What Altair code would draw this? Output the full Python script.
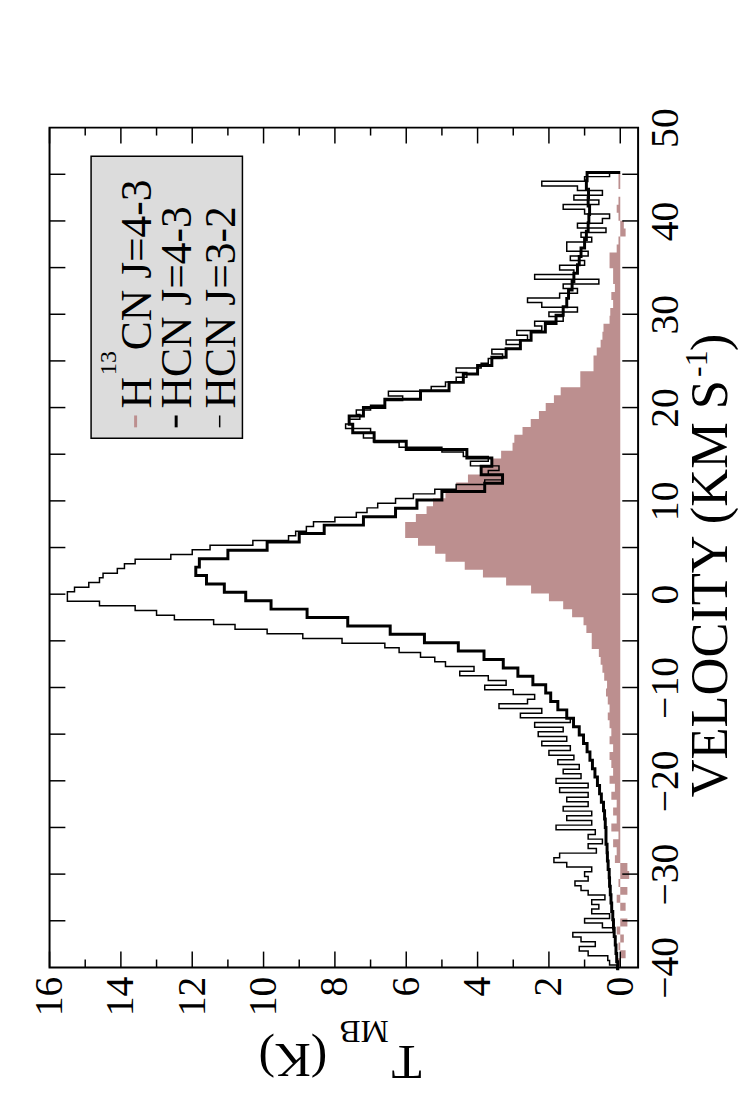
import altair as alt
import pandas as pd

FONT = "Liberation Serif"
BROWN = "#bc8f8f"

# ---------------- data ----------------
# HCN J=3-2 (thin line): first channel velocity, channel width (km/s), T_MB (K)
hcn32_v0 = -40.25
hcn32_dv = 0.5
hcn32_T = [
    0.1, 0.3, 0.35, 0.9, 1.15, 0.7, 1.1, 1.33, 0.2, 0.5,
    1.0, 0.3, 0.8, 0.6, 0.8, 0.43, 0.9, 1.1, 1.27, 0.9,
    1.0, 0.8, 1.5, 1.86, 1.7, 0.67, 0.9, 0.5, 0.9, 0.7,
    1.8, 0.8, 1.5, 0.8, 1.6, 0.9, 1.5, 0.9, 1.7, 0.9,
    1.8, 1.1, 1.6, 1.15, 1.75, 1.3, 2.0, 1.4, 2.2, 1.5,
    2.3, 1.6, 2.4, 1.4, 2.8, 2.2, 3.4, 2.6, 2.4, 3.0,
    3.8, 3.2, 3.7, 4.5, 4.1, 4.9, 5.2, 5.6, 6.2, 6.6,
    7.8, 8.9, 9.9, 10.8, 11.4, 12.5, 13.0, 13.6, 14.6, 15.5,
    15.5, 15.3, 14.9, 14.6, 14.5, 14.1, 13.9, 13.6, 12.6, 12.0,
    11.5, 10.3, 9.3, 9.1, 8.8, 8.6, 8.0, 7.4, 7.1, 6.8,
    6.3, 5.8, 5.2, 4.6, 3.8, 3.3, 3.7, 3.4, 4.2, 3.7,
    4.4, 5.0, 6.2, 6.9, 7.2, 7.0, 7.7, 7.6, 7.3, 7.4,
    7.0, 6.6, 6.1, 6.5, 5.3, 4.9, 4.6, 4.3, 4.6, 3.9,
    3.7, 3.3, 3.6, 2.8, 3.2, 2.6, 2.9, 2.2, 2.4, 1.6,
    2.0, 1.2, 2.2, 2.6, 1.7, 1.2, 1.6, 0.6, 2.4, 1.3,
    1.7, 1.0, 1.4, 0.9, 1.5, 1.5, 0.8, 1.1, 0.4, 1.2,
    0.5, 0.3, 1.0, 1.6, 0.6, 1.3, 0.5, 1.2, 2.2, 1.0,
    0.3,
]

# HCN J=4-3 (thick line); the trace closes to 0 K at its last channel edge
hcn43_v0 = -40.3
hcn43_dv = 0.9
hcn43_T = [
    0.07, 0.10, 0.12, 0.14, 0.17, 0.19, 0.21, 0.24, 0.26, 0.28,
    0.30, 0.31, 0.34, 0.36, 0.37, 0.40, 0.40, 0.42, 0.44, 0.47,
    0.53, 0.58, 0.64, 0.71, 0.78, 0.85, 0.93, 1.03, 1.15, 1.31,
    1.50, 1.75, 1.95, 2.09, 2.45, 2.87, 3.28, 3.82, 4.54, 5.49,
    6.45, 7.64, 8.78, 9.79, 10.5, 11.1, 11.6, 11.9, 11.8, 11.0,
    9.9, 9.0, 8.3, 7.2, 6.3, 5.7, 5.0, 3.8, 3.3, 3.9,
    3.6, 4.3, 6.0, 6.9, 7.5, 7.6, 7.2, 6.6, 5.6, 4.8,
    4.4, 4.0, 3.6, 3.2, 2.8, 2.5, 2.1, 1.8, 1.6, 1.5,
    1.45, 1.35, 1.3, 1.2, 1.15, 1.1, 1.0, 0.95, 0.9, 0.88,
    0.86, 0.9, 0.89, 0.95, 0.93,
]
hcn43_close = 0.0

# H13CN J=4-3 (filled histogram)
h13cn_v0 = -39.87
h13cn_dv = 0.85
h13cn_T = [
    -0.1, 0.1, -0.15, 0.05, -0.1, 0.1, -0.2, 0.0, -0.15, 0.1,
    -0.2, 0.05, -0.25, -0.2, 0.15, 0.1, 0.2, 0.05, 0.25, 0.1,
    0.2, 0.1, 0.25, 0.15, 0.3, 0.2, 0.25, 0.3, 0.2, 0.3,
    0.25, 0.3, 0.35, 0.3, 0.35, 0.4, 0.37, 0.45, 0.5, 0.55,
    0.6, 0.8, 0.8, 0.95, 1.03, 1.35, 1.6, 2.0, 2.5, 3.2,
    3.85, 4.36, 4.9, 5.19, 5.67, 6.03, 6.03, 5.73, 5.43, 5.25,
    4.9, 4.6, 4.27, 3.9, 3.62, 3.34, 3.02, 2.97, 2.74, 2.51,
    2.28, 2.09, 1.86, 1.67, 1.12, 1.12, 0.75, 0.75, 0.66, 0.55,
    0.5, 0.47, 0.3, 0.28, 0.2, 0.25, 0.15, 0.2, 0.2, 0.3,
    0.3, 0.1, 0.05, -0.15, -0.1, 0.05, 0.1, 0.05, 0.0, 0.05,
]

T_labels = [0, 2, 4, 6, 8, 10, 12, 14, 16]
T_minor = [1, 3, 5, 7, 9, 11, 13, 15]
V_labels = [-40, -30, -20, -10, 0, 10, 20, 30, 40, 50]
V_ticks = [-35, -30, -25, -20, -15, -10, -5, 0, 5, 10, 15, 20, 25, 30, 35, 40, 45]

legend_labels = ["HCN J=4-3", "HCN J=3-2"]


def step_table(v0, dv, vals, close=None):
    rows = [{"v": v0 + i * dv, "T": t} for i, t in enumerate(vals)]
    end = v0 + len(vals) * dv
    rows.append({"v": end, "T": vals[-1]})
    if close is not None:
        rows.append({"v": end + 1e-6, "T": close})
    return pd.DataFrame(rows)


W, H = 595, 849

x_scale = alt.Scale(domain=[-0.5, 16], reverse=True, nice=False, zero=False)
y_scale = alt.Scale(domain=[-40, 50], nice=False, zero=False)

x_axis = alt.Axis(orient="bottom", values=T_labels, labelAngle=270, labelAlign="right",
                  labelBaseline="middle", labelPadding=9, ticks=False, tickSize=0,
                  domain=False, grid=False, title=None, labelFont=FONT,
                  labelFontSize=40, labelColor="black", labelFlush=False,
                  labelOverlap=False)
y_axis = alt.Axis(orient="right", values=V_labels, labelAngle=270, labelAlign="center",
                  labelBaseline="top", labelPadding=8, ticks=False, tickSize=0,
                  domain=False, grid=False, title=None, labelFont=FONT,
                  labelFontSize=40, labelColor="black", labelFlush=False,
                  labelOverlap=False)

X = alt.X("T:Q", scale=x_scale, axis=x_axis)
Y = alt.Y("v:Q", scale=y_scale, axis=y_axis)

area = alt.Chart(step_table(h13cn_v0, h13cn_dv, h13cn_T)).mark_area(
    orient="horizontal", interpolate="step-before", color=BROWN
).encode(x=alt.X("T:Q", scale=x_scale, axis=x_axis, stack=None), x2=alt.datum(0), y=Y)

thin = alt.Chart(step_table(hcn32_v0, hcn32_dv, hcn32_T)).mark_line(
    interpolate="step-before", color="black", strokeWidth=1.5
).encode(x=X, y=Y, order=alt.Order("v:Q"))

thick = alt.Chart(step_table(hcn43_v0, hcn43_dv, hcn43_T, hcn43_close)).mark_line(
    interpolate="step-before", color="black", strokeWidth=3
).encode(x=X, y=Y, order=alt.Order("v:Q"))

# inward ticks on all four sides
tmaj = pd.DataFrame({"T": T_labels})
tmin = pd.DataFrame({"T": T_minor})
vtk = pd.DataFrame({"v": V_ticks})
tick_style = dict(color="black", strokeWidth=1.5)
ticks = [
    alt.Chart(tmaj).mark_rule(**tick_style).encode(x=X, y=alt.value(H), y2=alt.value(H - 16)),
    alt.Chart(tmaj).mark_rule(**tick_style).encode(x=X, y=alt.value(0), y2=alt.value(16)),
    alt.Chart(tmin).mark_rule(**tick_style).encode(x=X, y=alt.value(H), y2=alt.value(H - 8)),
    alt.Chart(tmin).mark_rule(**tick_style).encode(x=X, y=alt.value(0), y2=alt.value(8)),
    alt.Chart(vtk).mark_rule(**tick_style).encode(y=Y, x=alt.value(0), x2=alt.value(16)),
    alt.Chart(vtk).mark_rule(**tick_style).encode(y=Y, x=alt.value(W), x2=alt.value(W - 16)),
]

one = pd.DataFrame({"a": [0]})


def txt(s, x, y, size, angle, align, baseline):
    return alt.Chart(pd.DataFrame({"s": [s]})).mark_text(
        font=FONT, fontSize=size, angle=angle, align=align, baseline=baseline, color="black"
    ).encode(x=alt.value(x), y=alt.value(y), text="s:N")


# legend box
legend_box = alt.Chart(one).mark_rect(fill="#dcdcdc", stroke="black", strokeWidth=1.5).encode(
    x=alt.value(42), x2=alt.value(195), y=alt.value(29), y2=alt.value(314)
)
legend_items = [
    txt("H", 103, 284, 44, 270, "left", "alphabetic"),
    txt("13", 67, 250, 24, 270, "left", "alphabetic"),
    txt("CN J=4-3", 103, 225, 44, 270, "left", "alphabetic"),
    txt(legend_labels[0], 143, 284, 44, 270, "left", "alphabetic"),
    txt(legend_labels[1], 187, 284, 44, 270, "left", "alphabetic"),
    alt.Chart(one).mark_rule(color=BROWN, strokeWidth=3).encode(
        x=alt.value(87), y=alt.value(291), y2=alt.value(303)),
    alt.Chart(one).mark_rule(color="black", strokeWidth=3).encode(
        x=alt.value(128), y=alt.value(291), y2=alt.value(303)),
    alt.Chart(one).mark_rule(color="black", strokeWidth=1.5).encode(
        x=alt.value(172), y=alt.value(291), y2=alt.value(303)),
]

# axis titles
titles = [
    txt("T", 361, 943, 50, 180, "center", "middle"),
    txt("MB", 318, 913, 32, 180, "center", "middle"),
    txt("(K)", 246, 941, 50, 180, "center", "middle"),
    txt("VELOCITY (KM S", 685, 677, 53, 270, "left", "alphabetic"),
    txt("-1", 665, 252, 32, 270, "left", "alphabetic"),
    txt(")", 685, 226, 53, 270, "left", "alphabetic"),
]

chart = alt.layer(area, thin, thick, *ticks, legend_box, *legend_items, *titles).properties(
    width=W, height=H,
    padding={"left": 42, "top": 115, "right": 101, "bottom": 120},
    autosize=alt.AutoSizeParams(type="none"),
).configure_view(stroke="black", strokeWidth=2)

chart.save("out.html", embed_options={"renderer": "svg", "actions": False})
